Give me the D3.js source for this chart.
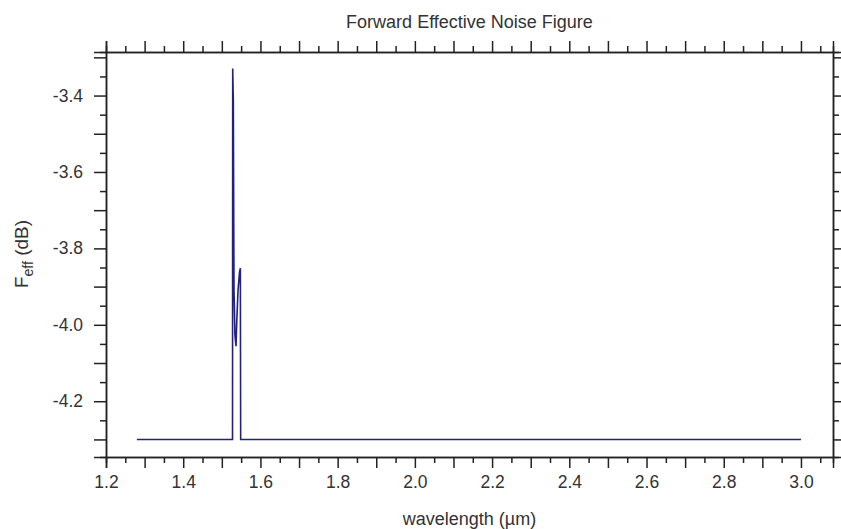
<!DOCTYPE html>
<html>
<head>
<meta charset="utf-8">
<script src="https://cdn.jsdelivr.net/npm/d3@7"></script>
<style>
  body { margin: 0; background: #fff; }
  text { font-family: "Liberation Sans", Arial, sans-serif; fill: #333; }
</style>
</head>
<body>
<div id="chart"></div>
<script>
// data
const wavelength = [1.28, 1.5277, 1.5282, 1.5298, 1.5315, 1.534, 1.5367, 1.5388, 1.542, 1.5458, 1.548, 1.5488, 3.0];
const feff       = [-4.30, -4.30, -3.329, -3.417, -3.909, -4.027, -4.056, -3.988, -3.91, -3.862, -3.852, -4.30, -4.30];
const xTickLabels = [1.2, 1.4, 1.6, 1.8, 2.0, 2.2, 2.4, 2.6, 2.8, 3.0];
const yTickLabels = [-3.4, -3.6, -3.8, -4.0, -4.2];

const W = 841, H = 529;
const pLeft = 106, pRight = 833, pTop = 52, pBottom = 457;

let svg = d3.select("#chart")
  .append("svg")
    .attr("width", W)
    .attr("height", H);

let x = d3.scaleLinear().domain([1.2, 3.083]).range([pLeft, pRight]);
let y = d3.scaleLinear().domain([-4.346, -3.286]).range([pBottom, pTop]);

// tick positions
let xMajor = d3.range(12, 31).map(d => d / 10);
let xMinor = d3.range(24, 62, 2).map(d => (d + 1) / 20).filter(d => d < 3.083);
let yMajor = d3.range(-43, -32).map(d => d / 10);
let yMinor = d3.range(-87, -65, 2).map(d => d / 20).filter(d => d > -4.346 && d < -3.286);

const fmt = d => xTickLabels.concat(yTickLabels).some(v => Math.abs(v - d) < 1e-6) ? d.toFixed(1) : "";

function styleAxis(g) {
  g.select(".domain").attr("stroke", "#222").attr("stroke-width", 1.5);
  g.selectAll(".tick line").attr("stroke", "#222").attr("stroke-width", 1.5);
  g.selectAll(".tick text").style("font-size", "17.5px").attr("fill", "#333");
}

// minor ticks first
svg.append("g").attr("transform", `translate(0,${pBottom})`)
  .call(d3.axisBottom(x).tickValues(xMinor).tickSize(6).tickFormat(""))
  .call(styleAxis);
svg.append("g").attr("transform", `translate(0,${pTop})`)
  .call(d3.axisTop(x).tickValues(xMinor).tickSize(6).tickFormat(""))
  .call(styleAxis);
svg.append("g").attr("transform", `translate(${pLeft},0)`)
  .call(d3.axisLeft(y).tickValues(yMinor).tickSize(6).tickFormat(""))
  .call(styleAxis);
svg.append("g").attr("transform", `translate(${pRight},0)`)
  .call(d3.axisRight(y).tickValues(yMinor).tickSize(6).tickFormat(""))
  .call(styleAxis);

// major ticks
svg.append("g").attr("transform", `translate(0,${pBottom})`)
  .call(d3.axisBottom(x).tickValues(xMajor).tickSize(11).tickPadding(8).tickFormat(fmt))
  .call(styleAxis);
svg.append("g").attr("transform", `translate(0,${pTop})`)
  .call(d3.axisTop(x).tickValues(xMajor).tickSize(11).tickFormat(""))
  .call(styleAxis);
svg.append("g").attr("transform", `translate(${pLeft},0)`)
  .call(d3.axisLeft(y).tickValues(yMajor).tickSize(12).tickPadding(11).tickFormat(fmt))
  .call(styleAxis);
svg.append("g").attr("transform", `translate(${pRight},0)`)
  .call(d3.axisRight(y).tickValues(yMajor).tickSize(11).tickFormat(""))
  .call(styleAxis);

// the curve
let pts = wavelength.map((w, i) => [w, feff[i]]);
let line = d3.line().x(d => x(d[0])).y(d => y(d[1]));
svg.append("path")
  .datum(pts)
  .attr("d", line)
  .attr("fill", "none")
  .attr("stroke", "#22227e")
  .attr("stroke-width", 1.6);

// title and labels
svg.append("text")
  .attr("x", (pLeft + pRight) / 2)
  .attr("y", 28)
  .attr("text-anchor", "middle")
  .style("font-size", "18px")
  .text("Forward Effective Noise Figure");

svg.append("text")
  .attr("x", (pLeft + pRight) / 2)
  .attr("y", 525)
  .attr("text-anchor", "middle")
  .style("font-size", "18px")
  .text("wavelength (µm)");

let ylab = svg.append("text")
  .attr("transform", "translate(28,254) rotate(-90)")
  .attr("text-anchor", "middle")
  .style("font-size", "19px");
ylab.append("tspan").text("F");
ylab.append("tspan").attr("dy", 5).style("font-size", "14px").text("eff");
ylab.append("tspan").attr("dy", -5).text(" (dB)");
</script>
</body>
</html>
